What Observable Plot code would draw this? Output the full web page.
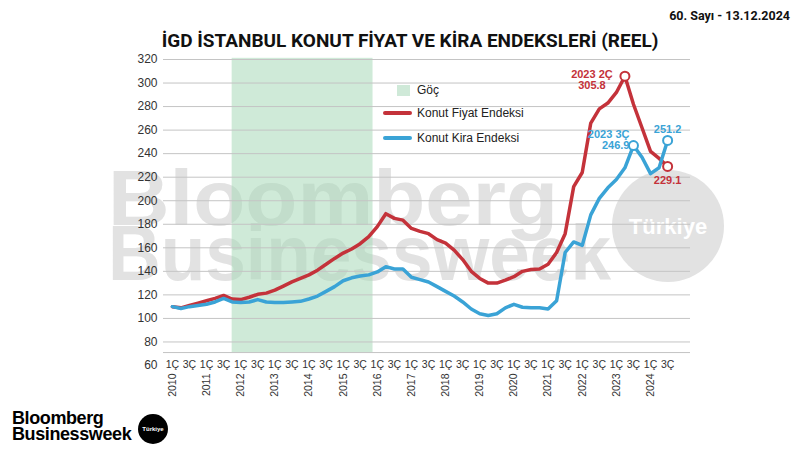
<!DOCTYPE html>
<html><head><meta charset="utf-8">
<script src="https://cdn.jsdelivr.net/npm/d3@7"></script>
<script src="https://cdn.jsdelivr.net/npm/@observablehq/plot@0.6"></script>
<style>
html,body{margin:0;padding:0;background:#fff;}
#wrap{position:relative;width:800px;height:450px;overflow:hidden;font-family:"Liberation Sans",Arial,sans-serif;}
#wm{position:absolute;left:0;top:0;}
#chart{position:absolute;left:0;top:0;}
.abs{position:absolute;white-space:nowrap;}
#title{left:0;width:820px;top:29px;text-align:center;font-family:Roboto,"Liberation Sans",sans-serif;font-weight:700;font-size:19px;color:#111;}
#issue{right:10px;top:8px;font-family:Roboto,sans-serif;font-weight:700;font-size:12.5px;color:#111;}
.leg{font-size:12px;color:#222;}
</style></head>
<body><div id="wrap">
<svg id="wm" width="800" height="450">
 <text x="108" y="225" font-family="Liberation Sans,Arial" font-weight="700" font-size="78" fill="#e2e2e2" textLength="450" lengthAdjust="spacingAndGlyphs">Bloomberg</text>
 <text x="108" y="280" font-family="Liberation Sans,Arial" font-weight="700" font-size="78" fill="#e2e2e2" textLength="503" lengthAdjust="spacingAndGlyphs">Businessweek</text>
 <circle cx="668" cy="226" r="56" fill="#e2e2e2"/>
 <text x="668" y="234" text-anchor="middle" font-family="Liberation Sans,Arial" font-weight="700" font-size="22" fill="#fff">Türkiye</text>
</svg>
<div id="chart"></div>
<div id="title" class="abs">İGD İSTANBUL KONUT FİYAT VE KİRA ENDEKSLERİ (REEL)</div>
<div id="issue" class="abs">60. Sayı - 13.12.2024</div>
<div class="abs leg" style="left:397px;top:85px;width:13px;height:11px;background:#cfe9d8"></div>
<div class="abs leg" style="left:417px;top:83px;">Göç</div>
<div class="abs leg" style="left:383px;top:111px;width:29px;height:4px;background:#c4323a;border-radius:2px"></div>
<div class="abs leg" style="left:417px;top:106px;">Konut Fiyat Endeksi</div>
<div class="abs leg" style="left:383px;top:136px;width:29px;height:4px;background:#3aa3d6;border-radius:2px"></div>
<div class="abs leg" style="left:417px;top:131px;">Konut Kira Endeksi</div>
<div class="abs" style="left:12px;top:410px;font-family:'Liberation Sans',Arial;font-weight:700;font-size:18px;line-height:16px;letter-spacing:-0.4px;color:#000">Bloomberg<br>Businessweek</div>
<div class="abs" style="left:138px;top:414px;width:30px;height:30px;border-radius:50%;background:#000;color:#fff;font-family:'Liberation Sans',Arial;font-weight:700;font-size:6px;line-height:30px;text-align:center">Türkiye</div>
</div>
<script>
// Dönemler: 2010 1Ç ... 2024 3Ç (çeyreklik)
const years = [2010,2011,2012,2013,2014,2015,2016,2017,2018,2019,2020,2021,2022,2023,2024];
// Konut Fiyat Endeksi (reel)
const fiyat = [110,109,111,113,115,117,119.5,116.5,116,118,120.5,121.5,124,127.5,131,134,137,141,146,151,155.5,159,163.5,169.5,178,189,185,183.5,176.5,174,172,167,164,158,150,140,134,130,130,132.5,135.5,140,141.5,142,146,156,172,212,224,266,278,283,292,305.8,282,262,242,236,229.1];
// Konut Kira Endeksi (reel)
const kira = [110,108.5,110,111,112,114,117,114,113.5,114,116,114,113.5,113.5,114,114.5,116.5,119,123,127,132,134.5,136,137,139.5,144,142,142,135,133,131,127,123,119,114,108,104,102.5,104,109,112,109.5,109,109,108,115,156,165,162,188,202,211,218,228,246.9,237,223,228,251.2];
const yTicks = [60,80,100,120,140,160,180,200,220,240,260,280,300,320];
const gridTicks = [80,100,120,140,160,180,200,220,240,260,280,300,320];
const xTickLabels = ["1Ç","3Ç"];
// Göç dönemi (2011 4Ç - 2015 4Ç sonu)
const goc = [{start: 2011.75, end: 2015.875}];
// Vurgulanan noktalar
const notes = [
  {seri:"fiyat", donem:"2023 2Ç", deger:305.8},
  {seri:"kira",  donem:"2023 3Ç", deger:246.9},
  {seri:"kira",  donem:"2024 3Ç", deger:251.2},
  {seri:"fiyat", donem:"2024 3Ç", deger:229.1}
];

const RED = "#c4323a", BLUE = "#3aa3d6";
const toX = (y, q) => y + (q - 1) / 4;
const data = [];
let k = 0;
for (const y of years) for (let q = 1; q <= 4; q++) {
  if (k < fiyat.length) data.push({t: toX(y, q), fiyat: fiyat[k], kira: kira[k]});
  k++;
}
const parseDonem = s => { const [y, q] = s.split(" "); return toX(+y, parseInt(q)); };
const pts = notes.map(n => ({...n, t: parseDonem(n.donem)}));
const qTicks = years.flatMap(y => [y, y + 0.5]).filter(t => t <= data[data.length-1].t);

const chart = Plot.plot({
  width: 800, height: 450,
  marginLeft: 163, marginRight: 110, marginTop: 59, marginBottom: 85,
  x: {domain: [2009.74, 2025.17]},
  y: {domain: [60, 320]},
  style: {background: "transparent", fontFamily: "'Liberation Sans', Arial, sans-serif", color: "#333"},
  marks: [
    Plot.rect(goc, {x1: "start", x2: "end", y1: 71, y2: 321, fill: "#a8d8b8", fillOpacity: 0.55}),
    Plot.ruleY(gridTicks, {stroke: "#c4c4c4", strokeWidth: 1}),
    Plot.ruleY([71], {stroke: "#c4c4c4", strokeWidth: 1}),
    Plot.axisY({ticks: yTicks, tickSize: 0, tickPadding: 6, fontSize: 12, label: null}),
    Plot.axisX({ticks: qTicks, tickFormat: t => xTickLabels[t % 1 === 0 ? 0 : 1], tickSize: 0, tickPadding: -5, fontSize: 10.5, label: null}),
    Plot.text(years, {x: d => d, text: d => String(d), frameAnchor: "bottom", rotate: -90, textAnchor: "end", lineAnchor: "middle", dy: 8, fontSize: 10.5, fill: "#333"}),
    Plot.line(data, {x: "t", y: "fiyat", stroke: RED, strokeWidth: 3.5}),
    Plot.line(data, {x: "t", y: "kira", stroke: BLUE, strokeWidth: 3.5}),
    Plot.dot(pts, {x: "t", y: "deger", r: 4.5, fill: "white", stroke: d => d.seri === "fiyat" ? RED : BLUE, strokeWidth: 2}),
    Plot.text(pts.slice(0,1), {x: "t", y: "deger", text: d => d.donem + "\n" + d.deger, dx: -33, dy: -6, lineAnchor: "top", lineHeight: 1.0, textAnchor: "middle", fill: RED, fontWeight: "bold", fontSize: 11}),
    Plot.text(pts.slice(1,2), {x: "t", y: "deger", text: d => d.donem + "\n" + d.deger, dx: -4, dy: 3, lineAnchor: "bottom", lineHeight: 1.0, textAnchor: "end", fill: BLUE, fontWeight: "bold", fontSize: 11}),
    Plot.text(pts.slice(2,3), {x: "t", y: "deger", text: d => String(d.deger), dy: -11, fill: BLUE, fontWeight: "bold", fontSize: 11}),
    Plot.text(pts.slice(3,4), {x: "t", y: "deger", text: d => String(d.deger), dy: 14, fill: RED, fontWeight: "bold", fontSize: 11})
  ]
});
document.getElementById("chart").appendChild(chart);
</script>
</body></html>
